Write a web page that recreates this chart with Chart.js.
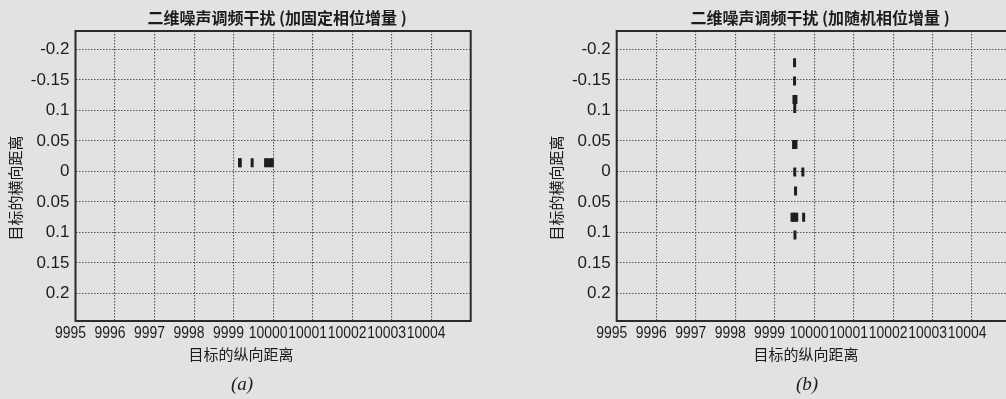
<!DOCTYPE html>
<html>
<head>
<meta charset="utf-8">
<script src="https://cdn.jsdelivr.net/npm/chart.js@4"></script>
<style>
  html, body { margin: 0; padding: 0; background: #e2e2e0; width: 1006px; height: 399px; overflow: hidden; }
  #wrap { position: relative; width: 1006px; height: 399px; overflow: hidden; }
  .pane { position: absolute; top: 0; height: 399px; }
  #paneA { left: 0; width: 503px; }
  #paneB { left: 503px; width: 520px; }
</style>
</head>
<body>
<div id="wrap">
  <div class="pane" id="paneA"><canvas id="chartA"></canvas></div>
  <div class="pane" id="paneB"><canvas id="chartB"></canvas></div>
</div>
<script>
// Axis ticks (longitudinal range on x, lateral range on y, y drawn top-down)
const xTickValues = [9995, 9996, 9997, 9998, 9999, 10000, 10001, 10002, 10003, 10004];
const xTickLabels = ['9995', '9996', '9997', '9998', '9999', '10000', '10001', '10002', '10003', '10004'];
const yTickValues = [-0.2, -0.15, -0.1, -0.05, 0, 0.05, 0.1, 0.15, 0.2];
const yTickLabels = ['-0.2', '-0.15', '0.1', '0.05', '0', '0.05', '0.1', '0.15', '0.2'];

// (a) fixed phase increment: false targets
const fixedPhaseX = [9999.15, 9999.17, 9999.47, 9999.81, 9999.87, 9999.93, 9999.98];
const fixedPhaseY = [-0.014, -0.014, -0.014, -0.014, -0.014, -0.014, -0.014];

// (b) random phase increment: false targets
const randomPhaseX = [9999.505, 9999.505, 9999.49, 9999.54, 9999.51, 9999.48, 9999.54,
                      9999.51, 9999.715, 9999.53, 9999.44, 9999.48, 9999.52, 9999.56,
                      9999.735, 9999.515];
const randomPhaseY = [-0.178, -0.148, -0.118, -0.118, -0.103, -0.044, -0.044,
                      0.001, 0.001, 0.032, 0.075, 0.075, 0.075, 0.075,
                      0.075, 0.104];

const TICK_FAMILY = '"Liberation Sans", Arial, sans-serif';
const INK = '#1c1c1c';
const GRID = '#555555';

const zip = (xs, ys) => xs.map((x, i) => ({ x, y: ys[i] }));

// Plot frame, narrow x tick labels, title, axis titles and panel tag
const decor = {
  id: 'decor',
  afterDraw(chart, args, o) {
    const { ctx, chartArea: a } = chart;
    const xs = chart.scales.x;
    const cx = (a.left + a.right) / 2;
    const cy = (a.top + a.bottom) / 2;
    ctx.save();
    ctx.strokeStyle = '#2b2b2b';
    ctx.lineWidth = 2;
    ctx.strokeRect(a.left, a.top, a.right - a.left, a.bottom - a.top);

    ctx.fillStyle = INK;
    ctx.textAlign = 'center';
    ctx.textBaseline = 'middle';

    // x tick labels are set in a horizontally condensed face
    ctx.font = '17px ' + TICK_FAMILY;
    xTickValues.forEach((v, i) => {
      ctx.save();
      ctx.translate(xs.getPixelForValue(v) - 5, a.bottom + 12.5);
      ctx.scale(0.82, 1);
      ctx.fillText(xTickLabels[i], 0, 0);
      ctx.restore();
    });

    ctx.font = 'bold 16px "Noto Sans CJK SC", sans-serif';
    ctx.fillText(o.title, cx + o.titleDx, a.top - 13);

    ctx.font = '15px "Noto Sans CJK SC", sans-serif';
    ctx.fillText(o.xLabel, cx + o.xLabelDx, a.bottom + 33);

    ctx.save();
    ctx.translate(a.left - 60, cy + 12);
    ctx.rotate(-Math.PI / 2);
    ctx.fillText(o.yLabel, 0, 0);
    ctx.restore();

    ctx.font = 'italic 19px "Liberation Serif", "Times New Roman", serif';
    ctx.fillText(o.panel, cx + o.xLabelDx + 1, a.bottom + 64);
    ctx.restore();
  }
};

function makeChart(id, points, yAxisWidth, padRight, texts) {
  return new Chart(document.getElementById(id), {
    type: 'scatter',
    data: {
      datasets: [{
        data: points,
        pointStyle: 'line',
        pointRotation: 90,
        pointRadius: 4.5,
        pointBorderWidth: 3,
        borderColor: '#1e1e1e',
        backgroundColor: '#1e1e1e',
        showLine: false
      }]
    },
    options: {
      responsive: true,
      maintainAspectRatio: false,
      animation: false,
      layout: { padding: { top: 31, right: padRight, left: 0, bottom: 0 } },
      plugins: {
        legend: { display: false },
        tooltip: { enabled: false },
        decor: texts
      },
      scales: {
        x: {
          type: 'linear',
          min: 9995,
          max: 10005,
          afterBuildTicks: s => { s.ticks = xTickValues.map(v => ({ value: v })); },
          afterFit: s => { s.height = 78; },
          grid: { color: GRID, lineWidth: 1.1, drawTicks: false },
          border: { display: false, dash: [1.5, 1.5] },
          ticks: { display: false }
        },
        y: {
          type: 'linear',
          reverse: true,
          min: -0.23,
          max: 0.245,
          afterBuildTicks: s => { s.ticks = yTickValues.map(v => ({ value: v })); },
          afterFit: s => { s.width = yAxisWidth; },
          grid: { color: GRID, lineWidth: 1.1, drawTicks: false },
          border: { display: false, dash: [1.5, 1.5] },
          ticks: {
            padding: 6,
            color: INK,
            font: { family: TICK_FAMILY, size: 17 },
            callback: (v, i) => yTickLabels[i]
          }
        }
      }
    },
    plugins: [decor]
  });
}

makeChart('chartA', zip(fixedPhaseX, fixedPhaseY), 75.5, 32.3, {
  title: '二维噪声调频干扰 (加固定相位增量 )',
  titleDx: 4,
  xLabel: '目标的纵向距离',
  xLabelDx: -32,
  yLabel: '目标的横向距离',
  panel: '(a)'
});

makeChart('chartB', zip(randomPhaseX, randomPhaseY), 113.7, 11.5, {
  title: '二维噪声调频干扰 (加随机相位增量 )',
  titleDx: 6,
  xLabel: '目标的纵向距离',
  xLabelDx: -8,
  yLabel: '目标的横向距离',
  panel: '(b)'
});
</script>
</body>
</html>
